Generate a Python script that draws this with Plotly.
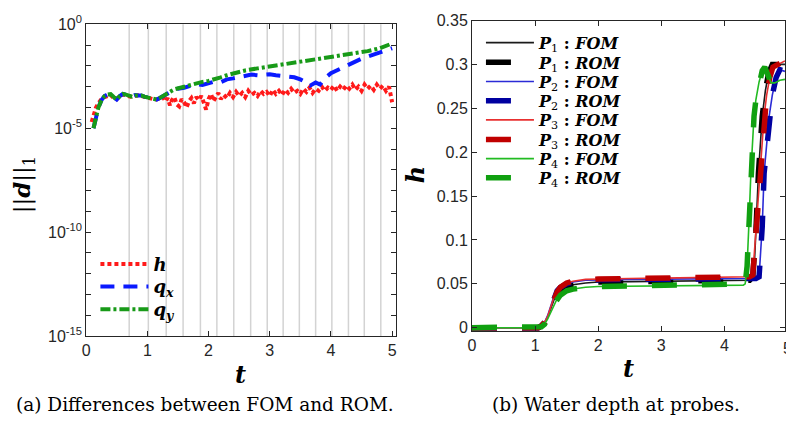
import plotly.graph_objects as go

# ---------------- Left panel: ||d||_1 (values stored as log10) ----------------
t_h = [0.09, 0.12, 0.16, 0.2, 0.25, 0.3, 0.35, 0.4, 0.45, 0.5, 0.55, 0.6, 0.65, 0.7, 0.75, 0.8,
       0.85, 0.9, 0.95, 1.0, 1.05, 1.1, 1.15, 1.2, 1.25, 1.3, 1.33, 1.37, 1.4, 1.44, 1.48, 1.52,
       1.56, 1.6, 1.64, 1.68, 1.72, 1.76, 1.8, 1.84, 1.88, 1.92, 1.96, 2.0, 2.04, 2.08, 2.12, 2.16,
       2.2, 2.25, 2.3, 2.35, 2.4, 2.45, 2.5, 2.55, 2.6, 2.65, 2.7, 2.75, 2.8, 2.85, 2.9, 2.95,
       3.0, 3.05, 3.1, 3.15, 3.2, 3.25, 3.3, 3.35, 3.4, 3.45, 3.5, 3.55, 3.6, 3.65, 3.7, 3.75,
       3.8, 3.85, 3.9, 3.95, 4.0, 4.05, 4.1, 4.15, 4.2, 4.25, 4.3, 4.35, 4.4, 4.45, 4.5, 4.55,
       4.6, 4.65, 4.7, 4.75, 4.8, 4.85, 4.9, 4.95, 5.0]
h_log10 = [-4.7, -4.4, -4.0, -3.8, -3.6, -3.5, -3.45, -3.4, -3.55, -3.6, -3.45, -3.38, -3.42, -3.45, -3.5, -3.45,
           -3.42, -3.45, -3.5, -3.52, -3.55, -3.6, -3.62, -3.55, -3.5, -3.7, -3.55, -3.9, -3.65, -3.5, -3.85, -3.95,
           -3.6, -3.75, -4.0, -3.7, -3.55, -3.8, -3.5, -3.65, -3.45, -3.75, -4.1, -3.6, -3.35, -3.7, -3.5, -3.3,
           -3.6, -3.4, -3.55, -3.3, -3.5, -3.25, -3.45, -3.3, -3.5, -3.2, -3.4, -3.3, -3.45, -3.2, -3.35, -3.25,
           -3.45, -3.15, -3.35, -3.2, -3.4, -3.15, -3.3, -3.1, -3.3, -3.2, -3.35, -3.1, -3.25, -3.05, -3.3, -3.1,
           -3.2, -3.0, -3.2, -3.05, -3.15, -2.95, -3.2, -3.0, -3.15, -2.95, -3.1, -2.9, -3.15, -3.0, -3.2, -2.9,
           -3.1, -2.95, -3.15, -2.9, -3.1, -2.95, -3.2, -3.0, -3.75]

t_qx = [0.12, 0.15, 0.2, 0.25, 0.3, 0.35, 0.4, 0.45, 0.5, 0.55, 0.6, 0.65, 0.7, 0.75, 0.8, 0.85,
        0.9, 0.95, 1.0, 1.05, 1.1, 1.15, 1.2, 1.25, 1.3, 1.35, 1.4, 1.45, 1.5, 1.6, 1.7, 1.8,
        1.9, 2.0, 2.1, 2.2, 2.3, 2.4, 2.5, 2.6, 2.7, 2.8, 2.9, 3.0, 3.1, 3.2, 3.3, 3.4,
        3.5, 3.6, 3.66, 3.75, 3.82, 3.9, 4.0, 4.1, 4.2, 4.3, 4.4, 4.5, 4.6, 4.7, 4.8, 4.9, 5.0]
qx_log10 = [-5.0, -4.6, -4.0, -3.65, -3.45, -3.38, -3.36, -3.5, -3.62, -3.45, -3.35, -3.38, -3.45, -3.45, -3.4, -3.42,
            -3.42, -3.48, -3.52, -3.56, -3.6, -3.62, -3.55, -3.45, -3.4, -3.3, -3.22, -3.15, -3.1, -3.05, -2.98, -2.88,
            -2.92, -2.85, -2.75, -2.78, -2.65, -2.6, -2.55, -2.47, -2.42, -2.45, -2.42, -2.4, -2.45, -2.48, -2.5, -2.55,
            -2.65, -2.8, -2.95, -2.8, -2.9, -2.6, -2.35, -2.2, -2.05, -1.9, -1.78, -1.65, -1.55, -1.45, -1.35, -1.25, -1.15]

t_qy = [0.12, 0.15, 0.2, 0.25, 0.3, 0.35, 0.4, 0.45, 0.5, 0.55, 0.6, 0.65, 0.7, 0.75, 0.8, 0.85,
        0.9, 0.95, 1.0, 1.05, 1.1, 1.15, 1.2, 1.25, 1.3, 1.35, 1.4, 1.45, 1.5, 1.6, 1.7, 1.8,
        1.9, 2.0, 2.1, 2.2, 2.3, 2.4, 2.5, 2.6, 2.8, 3.0, 3.2, 3.4, 3.6, 3.8, 4.0, 4.2,
        4.4, 4.6, 4.8, 5.0]
qy_log10 = [-5.0, -4.6, -4.0, -3.65, -3.45, -3.38, -3.36, -3.5, -3.62, -3.45, -3.35, -3.38, -3.45, -3.48, -3.42, -3.4,
            -3.42, -3.48, -3.52, -3.56, -3.6, -3.62, -3.55, -3.45, -3.38, -3.3, -3.2, -3.12, -3.08, -3.02, -2.92, -2.82,
            -2.77, -2.72, -2.65, -2.55, -2.45, -2.36, -2.28, -2.22, -2.12, -2.03, -1.95, -1.85, -1.77, -1.68, -1.6, -1.5,
            -1.4, -1.29, -1.15, -0.92]

# times of the grey vertical lines (window boundaries)
window_t = [0.703, 1.016, 1.308, 1.584, 1.867, 2.136, 2.412, 2.688, 2.959, 3.219,
            3.484, 3.750, 4.015, 4.286, 4.545, 4.815]

left_major_exp = [-15, -10, -5, 0]
left_minor_exp = list(range(-15, 1))
left_xticks = [0, 1, 2, 3, 4, 5]

# ---------------- Right panel: water depth at probes ----------------
t_early = [0, 1.05, 1.1, 1.15, 1.2, 1.25, 1.3, 1.35, 1.4, 1.5, 1.6, 1.8, 2.0, 2.5, 3.0, 3.5, 4.0, 4.3]
p1_early = [0, 0, 0.002, 0.005, 0.012, 0.022, 0.032, 0.038, 0.042, 0.047, 0.049, 0.051, 0.052, 0.0525, 0.053, 0.053, 0.0532, 0.0535]
p2_early = [0, 0, 0.002, 0.006, 0.014, 0.025, 0.036, 0.042, 0.046, 0.050, 0.052, 0.054, 0.0545, 0.055, 0.0553, 0.0555, 0.0558, 0.056]
p3_early = [0, 0, 0.002, 0.006, 0.013, 0.024, 0.035, 0.041, 0.046, 0.051, 0.053, 0.055, 0.0555, 0.056, 0.0565, 0.057, 0.0572, 0.0575]
p4_early = [0, 0, 0.001, 0.004, 0.010, 0.018, 0.027, 0.033, 0.037, 0.042, 0.044, 0.046, 0.047, 0.0475, 0.048, 0.048, 0.0482, 0.0485]

p1_late_t = [4.4, 4.45, 4.48, 4.5, 4.54, 4.6, 4.65, 4.7, 4.76, 4.85, 4.96]
p1_late_h = [0.054, 0.058, 0.08, 0.11, 0.176, 0.241, 0.27, 0.29, 0.3, 0.3, 0.3]
p2_late_t = [4.5, 4.55, 4.58, 4.6, 4.63, 4.71, 4.76, 4.82, 4.88, 4.96]
p2_late_h = [0.056, 0.058, 0.09, 0.115, 0.176, 0.241, 0.265, 0.285, 0.294, 0.292]
p3_late_t = [4.4, 4.45, 4.48, 4.51, 4.56, 4.63, 4.67, 4.72, 4.77, 4.85, 4.96]
p3_late_h = [0.058, 0.06, 0.09, 0.12, 0.176, 0.241, 0.265, 0.285, 0.297, 0.3, 0.304]
p4_late_t = [4.33, 4.36, 4.39, 4.42, 4.47, 4.5, 4.55, 4.6, 4.64, 4.68, 4.74, 4.8, 4.88, 4.96]
p4_late_h = [0.05, 0.07, 0.12, 0.176, 0.241, 0.26, 0.28, 0.293, 0.297, 0.29, 0.279, 0.279, 0.282, 0.283]

right_yticks = [0, 0.05, 0.1, 0.15, 0.2, 0.25, 0.3, 0.35]
right_ytext = ["0", "0.05", "0.1", "0.15", "0.2", "0.25", "0.3", "0.35"]
right_xticks = [0, 1, 2, 3, 4, 5]

W, H = 786, 426
AX = "#262626"
TICKFONT = dict(family="Liberation Sans, Arial, sans-serif", size=16, color=AX)
SERIF = "DejaVu Serif, serif"

fig = go.Figure()

# legend slots (pixel positions of sample-line start and row centre)
left_rows = [265.7, 289.3, 313.3]
right_rows = [33.3, 54, 74, 94.3, 114.3, 135, 155, 175]

left_specs = [
    (t_h, h_log10, "#ff1a1a", "4px,3px", "<b><i>h</i></b>"),
    (t_qx, qx_log10, "#0a1aff", "14px,9px", "<b><i>q</i></b><sub><b><i>x</i></b></sub>"),
    (t_qy, qy_log10, "#189a18", "10px,3px,3px,3px", "<b><i>q</i></b><sub><b><i>y</i></b></sub>"),
]
legend_layouts = {}
lid = 1
for (tx, ly, col, dash, name), row in zip(left_specs, left_rows):
    key = "legend" if lid == 1 else f"legend{lid}"
    fig.add_trace(go.Scatter(x=tx, y=[10 ** v for v in ly], mode="lines",
                             line=dict(color=col, width=4, dash=dash),
                             name=name, xaxis="x", yaxis="y", legend=key))
    legend_layouts[key] = dict(x=92 / W, y=1 - row / H, xanchor="left", yanchor="middle",
                               bgcolor="rgba(0,0,0,0)", font=dict(family=SERIF, size=18, color="black"),
                               itemwidth=48, borderwidth=0)
    lid += 1

probes = [
    (p1_early, p1_late_t, p1_late_h, "#1a1a1a", "#000000", "1"),
    (p2_early, p2_late_t, p2_late_h, "#2b2bd6", "#0000a0", "2"),
    (p3_early, p3_late_t, p3_late_h, "#e83030", "#c00000", "3"),
    (p4_early, p4_late_t, p4_late_h, "#22bb22", "#10a010", "4"),
]
ri = 0
for early, lt, lh, cf, cr, k in probes:
    tt = t_early + lt
    hh = early + lh
    for kind, col, wid, dash in (("FOM", cf, 1.6, "solid"), ("ROM", cr, 5.5, "25px,25px")):
        key = f"legend{lid}"
        fig.add_trace(go.Scatter(x=tt, y=hh, mode="lines", line=dict(color=col, width=wid, dash=dash),
                                 name=f"<b><i>P</i></b><sub>{k}</sub><b> : <i>{kind}</i></b>",
                                 xaxis="x2", yaxis="y2", legend=key))
        legend_layouts[key] = dict(x=480 / W, y=1 - right_rows[ri] / H, xanchor="left", yanchor="middle",
                                   bgcolor="rgba(0,0,0,0)", font=dict(family=SERIF, size=16, color="black"),
                                   itemwidth=48, borderwidth=0)
        lid += 1
        ri += 1

# grey window lines in left panel
for tv in window_t:
    fig.add_shape(type="line", xref="x", yref="y domain", x0=tv, x1=tv, y0=0, y1=1,
                  line=dict(color="#d3d3d3", width=1.5), layer="below")

axis_common = dict(showline=True, linecolor=AX, linewidth=1, mirror="allticks", ticks="inside",
                   ticklen=5, tickcolor=AX, showgrid=False, zeroline=False, tickfont=TICKFONT)

fig.update_layout(
    width=W, height=H, margin=dict(l=0, r=0, t=0, b=0),
    paper_bgcolor="white", plot_bgcolor="white",
    xaxis=dict(domain=[82.7 / W, 394.3 / W], range=[0, 5.06], tickvals=left_xticks,
               anchor="y", **axis_common),
    yaxis=dict(domain=[1 - 341 / H, 1 - 14 / H], type="log", range=[-15, 0],
               tickvals=[10 ** e for e in left_major_exp],
               ticktext=["10<sup>%d</sup>" % e for e in left_major_exp],
               minor=dict(tickvals=[10 ** e for e in left_minor_exp], ticks="inside", ticklen=5,
                          tickcolor=AX, showgrid=False),
               anchor="x", **axis_common),
    xaxis2=dict(domain=[471 / W, 1.0], range=[0, 4.961], tickvals=right_xticks,
                anchor="y2", **axis_common),
    yaxis2=dict(domain=[1 - 335.7 / H, 1 - 10 / H], range=[-0.0037, 0.35], tickvals=right_yticks,
                ticktext=right_ytext, anchor="x2", **axis_common),
    showlegend=True,
    **legend_layouts,
)

ann = [
    dict(text="<b><i>t</i></b>", x=238, y=381, size=24, angle=0),
    dict(text="<b><i>t</i></b>", x=629, y=375, size=24, angle=0),
    dict(text="<b><i>h</i></b>", x=415, y=172, size=24, angle=-90),
    dict(text="||<b><i>d</i></b>||<sub>1</sub>", x=20, y=182, size=23, angle=-90),
    dict(text="(a) Differences between FOM and ROM.", x=202, y=413, size=18.5, angle=0),
    dict(text="(b) Water depth at probes.", x=616, y=413, size=18.5, angle=0),
]
for a in ann:
    fig.add_annotation(text=a["text"], xref="paper", yref="paper", x=a["x"] / W, y=1 - a["y"] / H,
                       xanchor="center", yanchor="middle", showarrow=False, textangle=a["angle"],
                       font=dict(family=SERIF, size=a["size"], color="black"))
# partially visible "5" tick label of the right panel (axis cut by page edge)
fig.add_annotation(text="5", xref="paper", yref="paper", x=788.5 / W, y=1 - 354 / H,
                   xanchor="center", yanchor="middle", showarrow=False, font=TICKFONT)

fig.write_html("out.html")
